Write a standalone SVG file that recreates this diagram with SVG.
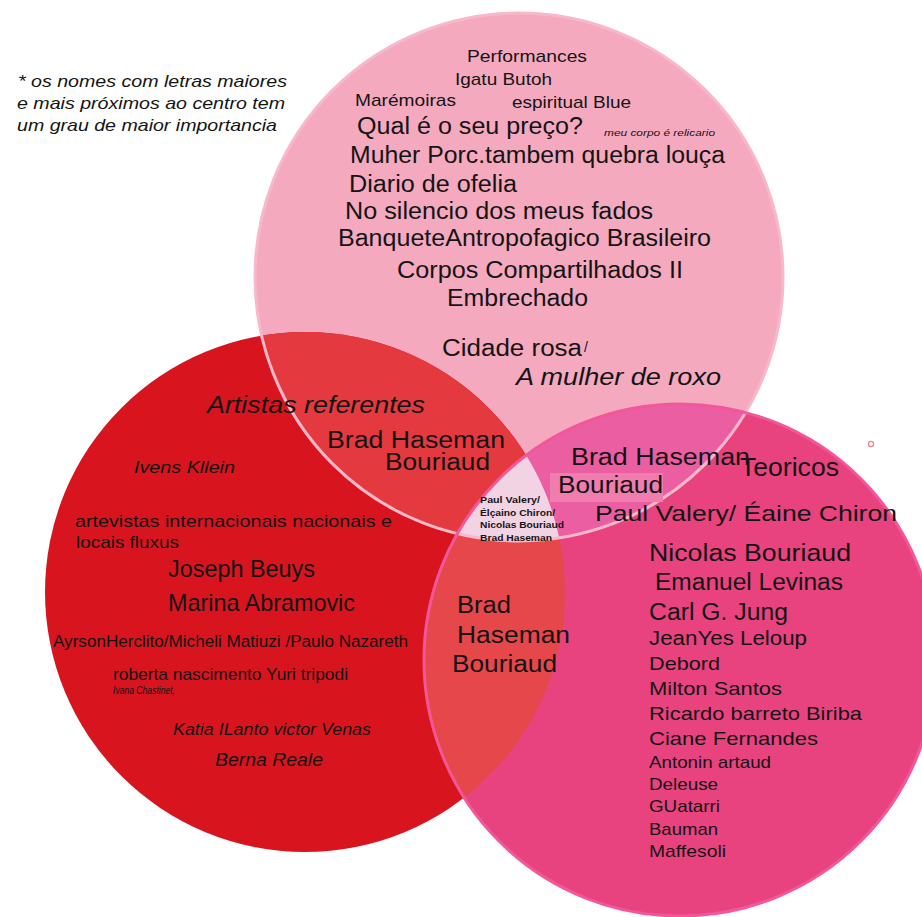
<svg xmlns="http://www.w3.org/2000/svg" width="922" height="917" viewBox="0 0 922 917">
<style>
.t{font-family:"Liberation Sans",Arial,sans-serif;fill:#141414}
.i{font-style:italic}
.b{font-weight:bold}
</style>
<defs>
<clipPath id="cTop"><circle cx="519" cy="277" r="264"/></clipPath>
<clipPath id="cLeft"><circle cx="305" cy="592" r="260"/></clipPath>
<clipPath id="cRight"><circle cx="680" cy="660" r="256"/></clipPath>
</defs>
<rect width="922" height="917" fill="#ffffff"/>
<g id="circles">
<circle id="circle-top" cx="519" cy="277" r="264" fill="#f5a9bf"/>
<circle id="circle-left" cx="305" cy="592" r="260" fill="#d8141f"/>
<circle id="circle-right" cx="680" cy="660" r="256" fill="#e8437f"/>
<circle id="top-left" cx="305" cy="592" r="260" fill="#e4393f" clip-path="url(#cTop)"/>
<circle id="left-right" cx="305" cy="592" r="260" fill="#e5474b" clip-path="url(#cRight)"/>
<circle id="top-right" cx="680" cy="660" r="256" fill="#ec5ea2" clip-path="url(#cTop)"/>
<g clip-path="url(#cTop)"><circle id="all-three" cx="305" cy="592" r="260" fill="#f2d3e3" clip-path="url(#cRight)"/></g>
<circle cx="305" cy="592" r="260" fill="none" stroke="#f7b9ca" stroke-width="3" clip-path="url(#cTop)" opacity="0"/>
<circle cx="519" cy="277" r="264" fill="none" stroke="#f7b9ca" stroke-width="3"/>
<circle cx="680" cy="660" r="256" fill="none" stroke="#f2579a" stroke-width="3"/>
<rect x="550" y="473" width="113" height="29" fill="#f07dae"/>
<circle cx="871" cy="444" r="2.6" fill="none" stroke="#e8808c" stroke-width="1.2"/>
</g>
<g id="note">
<text class="t i" x="18" y="87" font-size="17" textLength="269" lengthAdjust="spacingAndGlyphs">* os nomes com letras maiores</text>
<text class="t i" x="17" y="109" font-size="17" textLength="268" lengthAdjust="spacingAndGlyphs">e mais próximos ao centro tem</text>
<text class="t i" x="17" y="131" font-size="17" textLength="260" lengthAdjust="spacingAndGlyphs">um grau de maior importancia</text>
</g>
<g id="performances">
<text class="t" x="467" y="62" font-size="17" textLength="120" lengthAdjust="spacingAndGlyphs">Performances</text>
<text class="t" x="455" y="85" font-size="17" textLength="97" lengthAdjust="spacingAndGlyphs">Igatu Butoh</text>
<text class="t" x="355" y="106" font-size="17" textLength="101" lengthAdjust="spacingAndGlyphs">Marémoiras</text>
<text class="t" x="512" y="108" font-size="17" textLength="119" lengthAdjust="spacingAndGlyphs">espiritual Blue</text>
<text class="t" x="357" y="134" font-size="23" textLength="226" lengthAdjust="spacingAndGlyphs">Qual é o seu preço?</text>
<text class="t i" x="604" y="136" font-size="9" textLength="111" lengthAdjust="spacingAndGlyphs">meu corpo é relicario</text>
<text class="t" x="350" y="163" font-size="23" textLength="375" lengthAdjust="spacingAndGlyphs">Muher Porc.tambem quebra louça</text>
<text class="t" x="349" y="192" font-size="23" textLength="168" lengthAdjust="spacingAndGlyphs">Diario de ofelia</text>
<text class="t" x="345" y="219" font-size="23" textLength="308" lengthAdjust="spacingAndGlyphs">No silencio dos meus fados</text>
<text class="t" x="338" y="246" font-size="23" textLength="373" lengthAdjust="spacingAndGlyphs">BanqueteAntropofagico Brasileiro</text>
<text class="t" x="397" y="278" font-size="23" textLength="286" lengthAdjust="spacingAndGlyphs">Corpos Compartilhados II</text>
<text class="t" x="447" y="306" font-size="23" textLength="141" lengthAdjust="spacingAndGlyphs">Embrechado</text>
<text class="t" x="442" y="356" font-size="23" textLength="140" lengthAdjust="spacingAndGlyphs">Cidade rosa</text>
<text class="t" x="584" y="352" font-size="14">/</text>
<text class="t i" x="516" y="385" font-size="23" textLength="205" lengthAdjust="spacingAndGlyphs">A mulher de roxo</text>
</g>
<g id="artistas">
<text class="t i" x="207" y="413" font-size="23" textLength="218" lengthAdjust="spacingAndGlyphs">Artistas referentes</text>
<text class="t i" x="134" y="473" font-size="17" textLength="101" lengthAdjust="spacingAndGlyphs">Ivens Kllein</text>
<text class="t" x="75" y="527" font-size="17" textLength="317" lengthAdjust="spacingAndGlyphs">artevistas internacionais nacionais e</text>
<text class="t" x="76" y="548" font-size="17" textLength="103" lengthAdjust="spacingAndGlyphs">locais fluxus</text>
<text class="t" x="168" y="577" font-size="24" textLength="147" lengthAdjust="spacingAndGlyphs">Joseph Beuys</text>
<text class="t" x="168" y="611" font-size="24" textLength="187" lengthAdjust="spacingAndGlyphs">Marina Abramovic</text>
<text class="t" x="53" y="647" font-size="16" textLength="355" lengthAdjust="spacingAndGlyphs">AyrsonHerclito/Micheli Matiuzi /Paulo Nazareth</text>
<text class="t" x="113" y="680" font-size="16" textLength="235" lengthAdjust="spacingAndGlyphs">roberta nascimento Yuri tripodi</text>
<text class="t i" x="113" y="694" font-size="10" textLength="62" lengthAdjust="spacingAndGlyphs">Ivana Chastinet,</text>
<text class="t i" x="173" y="735" font-size="16" textLength="198" lengthAdjust="spacingAndGlyphs">Katia ILanto victor Venas</text>
<text class="t i" x="215" y="766" font-size="18" textLength="108" lengthAdjust="spacingAndGlyphs">Berna Reale</text>
</g>
<g id="artistas-performances">
<text class="t" x="327" y="448" font-size="23" textLength="178" lengthAdjust="spacingAndGlyphs">Brad Haseman</text>
<text class="t" x="385" y="470" font-size="23" textLength="105" lengthAdjust="spacingAndGlyphs">Bouriaud</text>
</g>
<g id="teoricos-performances">
<text class="t" x="571" y="465" font-size="23" textLength="179" lengthAdjust="spacingAndGlyphs">Brad Haseman</text>
<text class="t" x="558" y="493" font-size="23" textLength="105" lengthAdjust="spacingAndGlyphs">Bouriaud</text>
</g>
<g id="centro">
<text class="t b" x="480" y="503" font-size="9.5" textLength="60" lengthAdjust="spacingAndGlyphs">Paul Valery/</text>
<text class="t b" x="480" y="516" font-size="9.5" textLength="75" lengthAdjust="spacingAndGlyphs">Élçaino Chiron/</text>
<text class="t b" x="480" y="528" font-size="9.5" textLength="84" lengthAdjust="spacingAndGlyphs">Nicolas Bouriaud</text>
<text class="t b" x="480" y="541" font-size="9.5" textLength="72" lengthAdjust="spacingAndGlyphs">Brad Haseman</text>
</g>
<g id="artistas-teoricos">
<text class="t" x="457" y="613" font-size="23" textLength="54" lengthAdjust="spacingAndGlyphs">Brad</text>
<text class="t" x="457" y="643" font-size="23" textLength="113" lengthAdjust="spacingAndGlyphs">Haseman</text>
<text class="t" x="452" y="672" font-size="23" textLength="105" lengthAdjust="spacingAndGlyphs">Bouriaud</text>
</g>
<g id="teoricos">
<text class="t" x="740" y="476" font-size="25" textLength="99" lengthAdjust="spacingAndGlyphs">Teoricos</text>
<text class="t" x="595" y="521" font-size="22" textLength="302" lengthAdjust="spacingAndGlyphs">Paul Valery/ Éaine Chiron</text>
<text class="t" x="649" y="561" font-size="23" textLength="202" lengthAdjust="spacingAndGlyphs">Nicolas Bouriaud</text>
<text class="t" x="655" y="590" font-size="23" textLength="188" lengthAdjust="spacingAndGlyphs">Emanuel Levinas</text>
<text class="t" x="649" y="620" font-size="23" textLength="139" lengthAdjust="spacingAndGlyphs">Carl G. Jung</text>
<text class="t" x="649" y="645" font-size="20" textLength="158" lengthAdjust="spacingAndGlyphs">JeanYes Leloup</text>
<text class="t" x="649" y="670" font-size="19" textLength="71" lengthAdjust="spacingAndGlyphs">Debord</text>
<text class="t" x="649" y="695" font-size="19" textLength="133" lengthAdjust="spacingAndGlyphs">Milton Santos</text>
<text class="t" x="649" y="720" font-size="19" textLength="213" lengthAdjust="spacingAndGlyphs">Ricardo barreto Biriba</text>
<text class="t" x="649" y="745" font-size="19" textLength="169" lengthAdjust="spacingAndGlyphs">Ciane Fernandes</text>
<text class="t" x="649" y="768" font-size="17" textLength="122" lengthAdjust="spacingAndGlyphs">Antonin artaud</text>
<text class="t" x="649" y="790" font-size="17" textLength="69" lengthAdjust="spacingAndGlyphs">Deleuse</text>
<text class="t" x="649" y="812" font-size="17" textLength="71" lengthAdjust="spacingAndGlyphs">GUatarri</text>
<text class="t" x="649" y="835" font-size="17" textLength="69" lengthAdjust="spacingAndGlyphs">Bauman</text>
<text class="t" x="649" y="857" font-size="17" textLength="77" lengthAdjust="spacingAndGlyphs">Maffesoli</text>
</g>
</svg>
